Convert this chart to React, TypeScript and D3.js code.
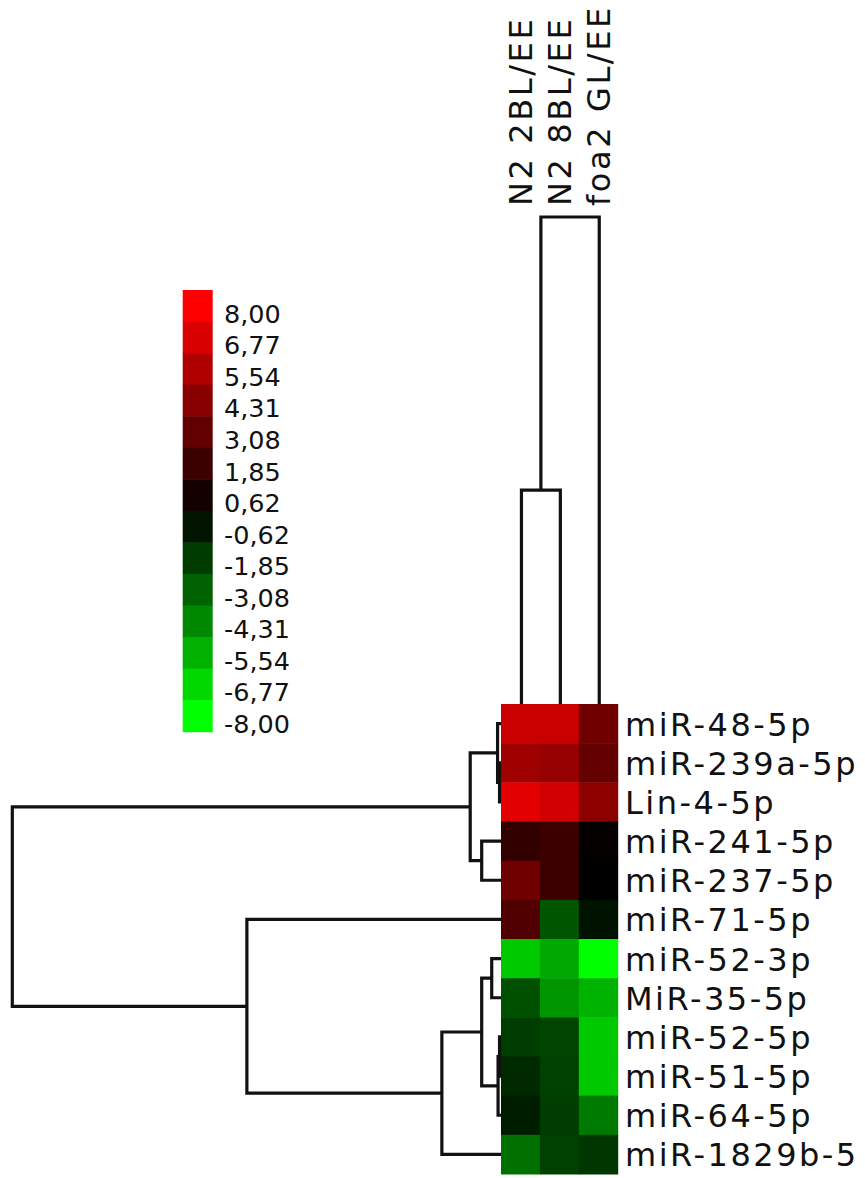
import React from "react";
import * as d3 from "d3";

const rowLabels = [
  "miR-48-5p",
  "miR-239a-5p",
  "Lin-4-5p",
  "miR-241-5p",
  "miR-237-5p",
  "miR-71-5p",
  "miR-52-3p",
  "MiR-35-5p",
  "miR-52-5p",
  "miR-51-5p",
  "miR-64-5p",
  "miR-1829b-5",
];
const colLabels = ["N2 2BL/EE", "N2 8BL/EE", "foa2 GL/EE"];

// expression values, one array per column
const colN2_2BL = [6.3, 5.0, 7.1, 1.6, 3.5, 2.5, -6.3, -2.5, -1.9, -1.3, -0.9, -3.5];
const colN2_8BL = [6.3, 4.7, 6.6, 1.9, 1.9, -2.7, -5.3, -4.7, -2.2, -2.0, -1.9, -2.0];
const colFoa2GL = [3.5, 3.1, 4.4, 0.15, 0.0, -0.6, -8.0, -5.6, -6.3, -6.3, -3.8, -1.7];
const columns = [colN2_2BL, colN2_8BL, colFoa2GL];

const legendTicks = [8.0, 6.77, 5.54, 4.31, 3.08, 1.85, 0.62, -0.62, -1.85, -3.08, -4.31, -5.54, -6.77, -8.0];

// row linkage: [childA, childB, height]; leaves 0..11, new nodes 12..
const rowLinkage: [number, number, number][] = [
  [1, 2, 0.3], // 12
  [8, 9, 0.3], // 13
  [13, 10, 0.6], // 14
  [0, 12, 0.7], // 15
  [6, 7, 1.9], // 16
  [3, 4, 3.95], // 17
  [16, 14, 3.95], // 18
  [15, 17, 6.3], // 19
  [18, 11, 12.1], // 20
  [5, 20, 52.0], // 21
  [19, 21, 100], // 22
];
// column linkage; leaves 0..2, new nodes 3..
const colLinkage: [number, number, number][] = [
  [0, 1, 43.9], // 3
  [3, 2, 100], // 4
];

const W = 865;
const H = 1178;
const FONT = "'DejaVu Sans', Verdana, sans-serif";

export default function App() {
  const hmLeft = 501;
  const hmRight = 617.7;
  const hmTop = 704;
  const hmBottom = 1174;

  const xCol = d3.scaleBand<number>().domain(d3.range(colLabels.length)).range([hmLeft, hmRight]);
  const yRow = d3.scaleBand<number>().domain(d3.range(rowLabels.length)).range([hmTop, hmBottom]);
  const color = d3.scaleLinear<string>().domain([-8, 0, 8]).range(["#00ff00", "#000000", "#ff0000"]).clamp(true);

  // row dendrogram
  const rowH = d3.scaleLinear().domain([0, 100]).range([hmLeft, 12.3]);
  const rowPos: { y: number; x: number }[] = rowLabels.map((_, i) => ({
    y: (yRow(i) as number) + yRow.bandwidth() / 2,
    x: hmLeft,
  }));
  const rowPaths: string[] = [];
  rowLinkage.forEach(([a, b, h]) => {
    const pa = rowPos[a];
    const pb = rowPos[b];
    const x = rowH(h);
    rowPaths.push(`M${pa.x},${pa.y}H${x}V${pb.y}H${pb.x}`);
    rowPos.push({ x, y: (pa.y + pb.y) / 2 });
  });

  // column dendrogram
  const colH = d3.scaleLinear().domain([0, 100]).range([hmTop, 217]);
  const colPos: { x: number; y: number }[] = colLabels.map((_, i) => ({
    x: (xCol(i) as number) + xCol.bandwidth() / 2 + 1,
    y: hmTop,
  }));
  const colPaths: string[] = [];
  colLinkage.forEach(([a, b, h]) => {
    const pa = colPos[a];
    const pb = colPos[b];
    const y = colH(h);
    colPaths.push(`M${pa.x},${pa.y}V${y}H${pb.x}V${pb.y}`);
    colPos.push({ x: (pa.x + pb.x) / 2, y });
  });

  // legend
  const yLeg = d3.scaleBand<number>().domain(d3.range(legendTicks.length)).range([290, 731.7]);
  const fmt = (v: number) => d3.format(".2f")(v).replace(".", ",").replace("\u2212", "-");

  return (
    <svg
      width={W}
      height={H}
      style={{ position: "absolute", left: 0, top: 0, background: "#fff" }}
      fontFamily={FONT}
    >
      <rect x={0} y={0} width={W} height={H} fill="#fff" />
      {/* legend */}
      {legendTicks.map((v, i) => (
        <g key={"leg" + i}>
          <rect
            x={182.7}
            y={yLeg(i) as number}
            width={30}
            height={yLeg.bandwidth() + 0.5}
            fill={color(v)}
          />
          <text
            x={224}
            y={(yLeg(i) as number) + yLeg.bandwidth() / 2 + 17}
            fontSize={25.5}
            fill="#111"
          >
            {fmt(v)}
          </text>
        </g>
      ))}

      {/* heatmap */}
      {columns.map((col, c) =>
        col.map((v, r) => (
          <rect
            key={`c${c}r${r}`}
            x={xCol(c) as number}
            y={yRow(r) as number}
            width={xCol.bandwidth() + 0.5}
            height={yRow.bandwidth() + 0.5}
            fill={color(v)}
          />
        ))
      )}

      {/* dendrograms */}
      {rowPaths.map((d, i) => (
        <path key={"rp" + i} d={d} fill="none" stroke="#111" strokeWidth={3.2} />
      ))}
      {colPaths.map((d, i) => (
        <path key={"cp" + i} d={d} fill="none" stroke="#111" strokeWidth={3.2} />
      ))}

      {/* row labels */}
      {rowLabels.map((lab, r) => (
        <text
          key={"rl" + r}
          x={625}
          y={(yRow(r) as number) + yRow.bandwidth() / 2 + 12}
          fontSize={32}
          letterSpacing={2.5}
          fill="#111"
        >
          {lab}
        </text>
      ))}

      {/* column labels */}
      {colLabels.map((lab, c) => {
        const x = (xCol(c) as number) + xCol.bandwidth() / 2 + 12;
        const y = 206;
        return (
          <text
            key={"cl" + c}
            transform={`translate(${x},${y}) rotate(-90)`}
            fontSize={32}
            letterSpacing={2.6}
            fill="#111"
          >
            {lab}
          </text>
        );
      })}
    </svg>
  );
}
